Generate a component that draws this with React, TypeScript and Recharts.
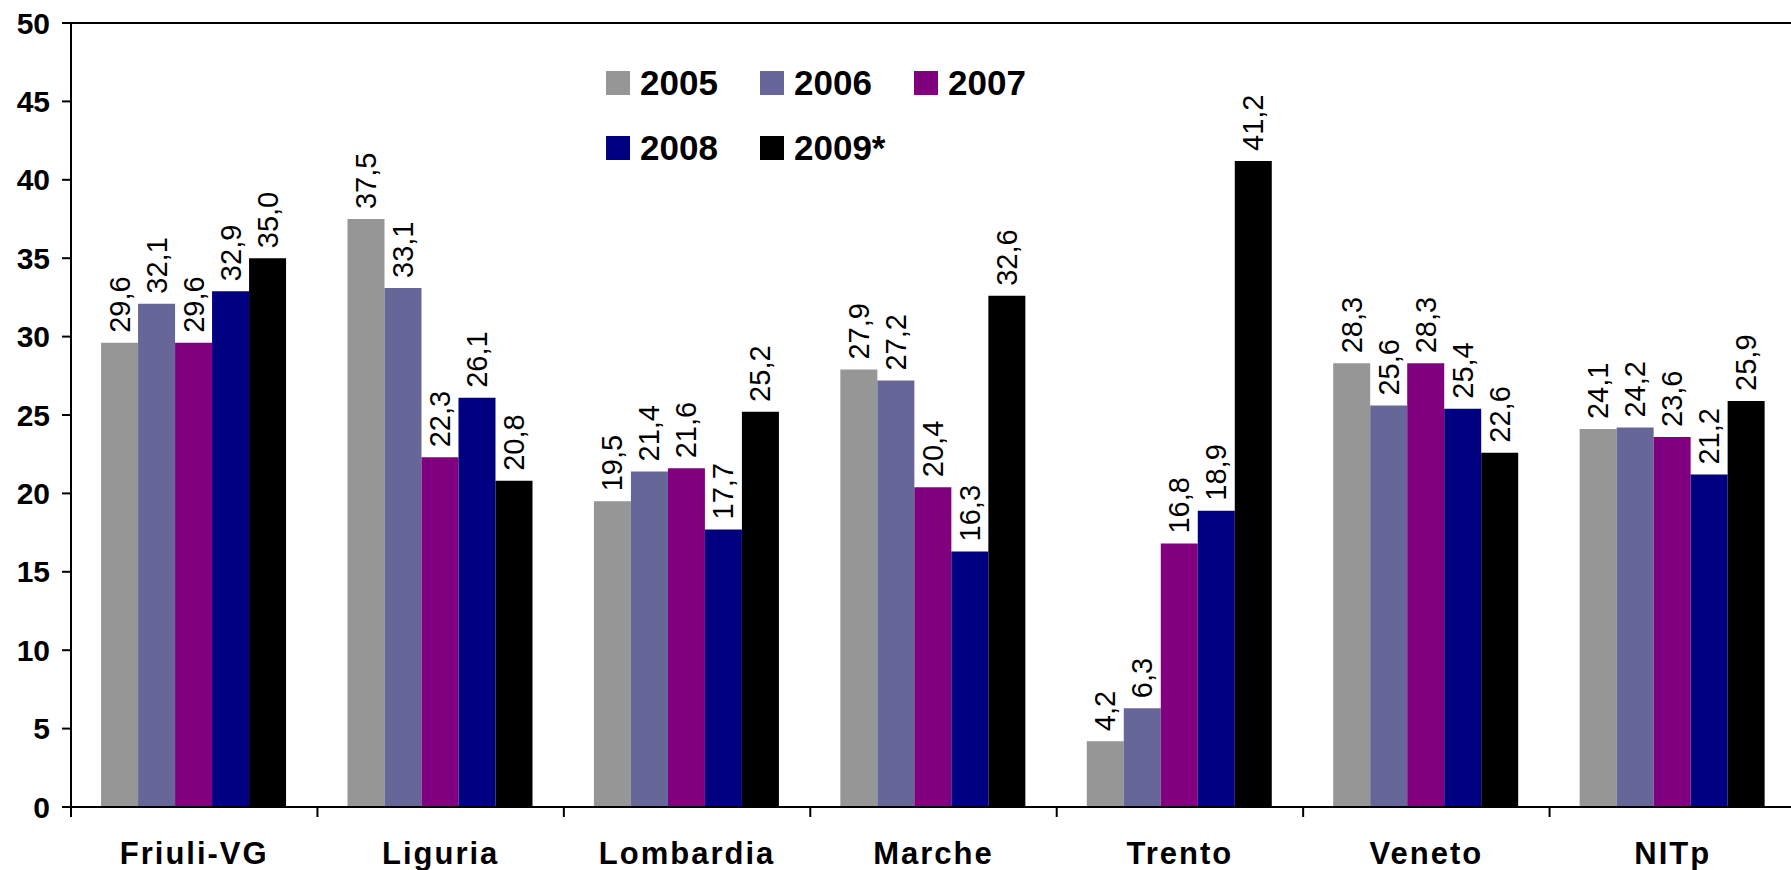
import { BarChart, Bar, XAxis, YAxis, Legend, LabelList, ReferenceLine } from 'recharts';

const regions = ['Friuli-VG', 'Liguria', 'Lombardia', 'Marche', 'Trento', 'Veneto', 'NITp'];
const years = ['2005', '2006', '2007', '2008', '2009*'];
const colors = ['#969696', '#666699', '#800080', '#000080', '#000000'];

const v2005 = [29.6, 37.5, 19.5, 27.9, 4.2, 28.3, 24.1];
const v2006 = [32.1, 33.1, 21.4, 27.2, 6.3, 25.6, 24.2];
const v2007 = [29.6, 22.3, 21.6, 20.4, 16.8, 28.3, 23.6];
const v2008 = [32.9, 26.1, 17.7, 16.3, 18.9, 25.4, 21.2];
const v2009 = [35.0, 20.8, 25.2, 32.6, 41.2, 22.6, 25.9];

const yTicks = [0, 5, 10, 15, 20, 25, 30, 35, 40, 45, 50];

const seriesValues = [v2005, v2006, v2007, v2008, v2009];
const keys = ['y2005', 'y2006', 'y2007', 'y2008', 'y2009'];

const data = regions.map((name, i) => {
  const row: Record<string, string | number> = { name };
  keys.forEach((k, s) => {
    row[k] = seriesValues[s][i];
  });
  return row;
});

const FONT = '"Liberation Sans", Arial, sans-serif';

const fmt = (v: number) => v.toFixed(1).replace('.', ',');

function RotatedLabel(props: any) {
  const { x, y, width, value } = props;
  const cx = x + width / 2;
  const ty = y - 10;
  return (
    <text
      x={cx}
      y={ty}
      transform={`rotate(-90, ${cx}, ${ty})`}
      textAnchor="start"
      dominantBaseline="central"
      fontFamily={FONT}
      fontSize={29}
      fill="#000"
    >
      {fmt(Number(value))}
    </text>
  );
}

function CategoryTick(props: any) {
  const { x, y, payload } = props;
  const off = payload.offset || 0;
  return (
    <g>
      <line x1={x - off} y1={y} x2={x - off} y2={y + 10} stroke="#000" strokeWidth={2} />
      <text
        x={x}
        y={y + 46}
        textAnchor="middle"
        dominantBaseline="central"
        fontFamily={FONT}
        fontWeight="bold"
        fontSize={31}
        letterSpacing={2}
        fill="#000"
      >
        {payload.value}
      </text>
    </g>
  );
}

function LegendContent() {
  const rows = [[0, 1, 2], [3, 4]];
  return (
    <div style={{ fontFamily: FONT }}>
      {rows.map((row, r) => (
        <div key={r} style={{ display: 'flex', height: 65, alignItems: 'center' }}>
          {row.map((i) => (
            <div key={i} style={{ display: 'flex', alignItems: 'center', width: 154 }}>
              <span style={{ width: 24, height: 24, background: colors[i], display: 'inline-block', marginRight: 10 }} />
              <span style={{ fontSize: 35, fontWeight: 'bold', color: '#000', lineHeight: 1 }}>{years[i]}</span>
            </div>
          ))}
        </div>
      ))}
    </div>
  );
}

export default function App() {
  return (
    <div style={{ position: 'absolute', left: 0, top: 0, width: 1791, height: 870, overflow: 'hidden', background: '#fff' }}>
      <BarChart
        width={1800}
        height={870}
        data={data}
        margin={{ top: 23, right: 4, left: 0, bottom: 0 }}
        barCategoryGap="12.2%"
        barGap={0}
      >
        <YAxis
          domain={[0, 50]}
          ticks={yTicks}
          interval={0}
          width={71}
          axisLine={{ stroke: '#000', strokeWidth: 2 }}
          tickLine={{ stroke: '#000', strokeWidth: 2 }}
          tickSize={9}
          tickMargin={12}
          tick={{ fill: '#000', fontSize: 30, fontWeight: 'bold', fontFamily: FONT }}
        />
        <XAxis
          dataKey="name"
          height={63}
          axisLine={{ stroke: '#000', strokeWidth: 2 }}
          tickLine={false}
          tickSize={0}
          tickMargin={0}
          interval={0}
          tick={<CategoryTick />}
        />
        <ReferenceLine y={50} stroke="#000" strokeWidth={2} />
        <Legend
          layout="horizontal"
          verticalAlign="middle"
          align="center"
          wrapperStyle={{ left: 606, top: 50, width: 480 }}
          content={<LegendContent />}
        />
        {keys.map((k, s) => (
          <Bar key={k} dataKey={k} name={years[s]} fill={colors[s]} isAnimationActive={false}>
            <LabelList dataKey={k} content={<RotatedLabel />} />
          </Bar>
        ))}
      </BarChart>
    </div>
  );
}
